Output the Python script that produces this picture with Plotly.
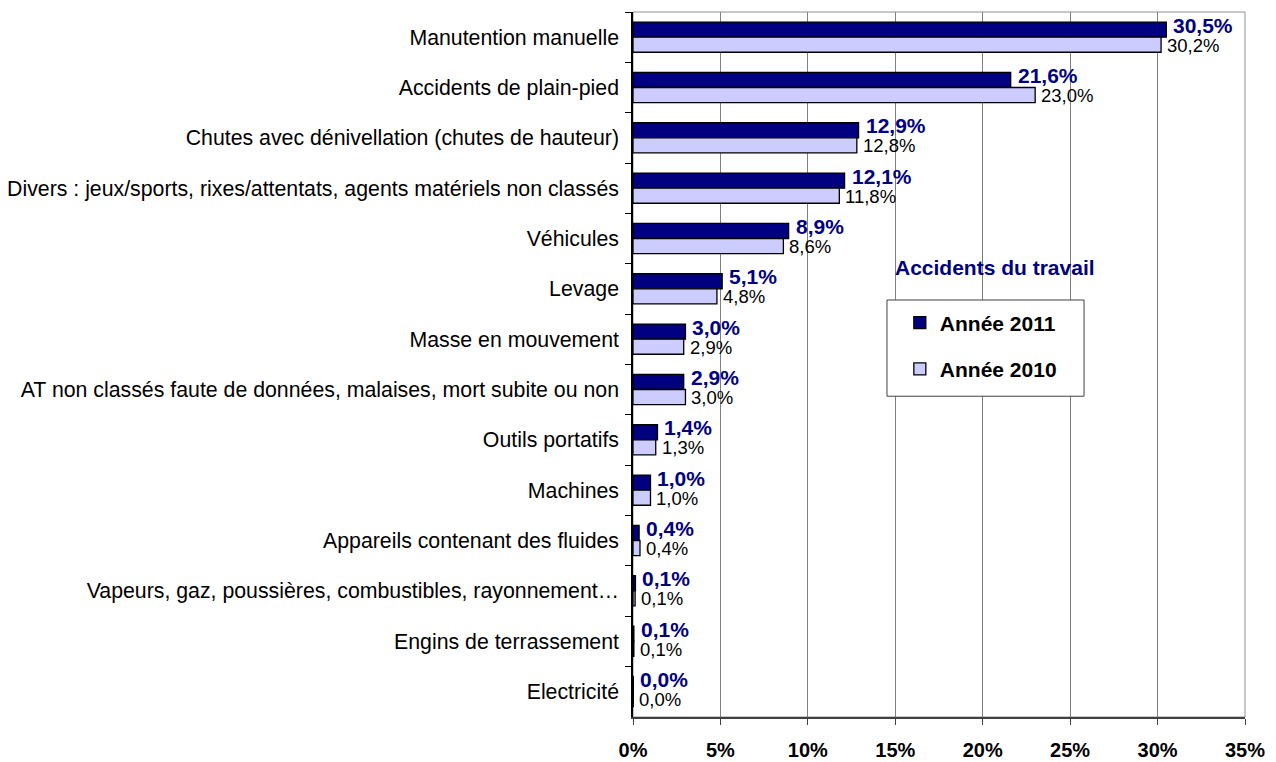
import plotly.graph_objects as go

categories = [
    "Manutention manuelle",
    "Accidents de plain-pied",
    "Chutes avec dénivellation (chutes de hauteur)",
    "Divers : jeux/sports, rixes/attentats, agents matériels non classés",
    "Véhicules",
    "Levage",
    "Masse en mouvement",
    "AT non classés faute de données, malaises, mort subite ou non",
    "Outils portatifs",
    "Machines",
    "Appareils contenant des fluides",
    "Vapeurs, gaz, poussières, combustibles, rayonnement…",
    "Engins de terrassement",
    "Electricité",
]

values_2011 = [30.5, 21.6, 12.9, 12.1, 8.9, 5.1, 3.0, 2.9, 1.4, 1.0, 0.35, 0.14, 0.05, 0.02]
values_2010 = [30.2, 23.0, 12.8, 11.8, 8.6, 4.8, 2.9, 3.0, 1.3, 1.0, 0.4, 0.12, 0.05, 0.02]

labels_2011 = ["30,5%", "21,6%", "12,9%", "12,1%", "8,9%", "5,1%", "3,0%",
               "2,9%", "1,4%", "1,0%", "0,4%", "0,1%", "0,1%", "0,0%"]
labels_2010 = ["30,2%", "23,0%", "12,8%", "11,8%", "8,6%", "4,8%", "2,9%",
               "3,0%", "1,3%", "1,0%", "0,4%", "0,1%", "0,1%", "0,0%"]

x_ticks = [0, 5, 10, 15, 20, 25, 30, 35]
x_tick_text = ["0%", "5%", "10%", "15%", "20%", "25%", "30%", "35%"]

FONT = "Liberation Sans, Arial, sans-serif"
NAVY = "#000080"
LAVENDER = "#CCCCFF"

fig = go.Figure()

fig.add_trace(go.Bar(
    y=categories, x=values_2011, orientation="h",
    name="Année 2011", legendgroup="a",
    marker=dict(color=NAVY, line=dict(color="black", width=1.3)),
))
fig.add_trace(go.Bar(
    y=categories, x=values_2010, orientation="h",
    name="Année 2010", legendgroup="b",
    marker=dict(color=LAVENDER, line=dict(color="black", width=1.3)),
))

# data labels: 2011 above the category centre, 2010 below
annotations = []
for cat, v, lab in zip(categories, values_2011, labels_2011):
    annotations.append(dict(
        x=v, y=cat, text=lab, xanchor="left", yanchor="middle",
        xshift=5, yshift=12, showarrow=False,
        font=dict(family=FONT, size=21, color=NAVY, weight="bold")))
for cat, v, lab in zip(categories, values_2010, labels_2010):
    annotations.append(dict(
        x=v, y=cat, text=lab, xanchor="left", yanchor="middle",
        xshift=4, yshift=-8, showarrow=False,
        font=dict(family=FONT, size=18.5, color="black")))

annotations.append(dict(
    text="Accidents du travail", xref="paper", yref="paper",
    x=0.5915, y=0.637, xanchor="center", yanchor="middle", showarrow=False,
    font=dict(family=FONT, size=21, color=NAVY, weight="bold")))

fig.update_layout(
    width=1268, height=754,
    margin=dict(l=625, r=31, t=4, b=45),
    paper_bgcolor="white", plot_bgcolor="white",
    font=dict(family=FONT, size=21, color="black"),
    barmode="group", bargap=0.4, bargroupgap=0,
    showlegend=True,
    legend=dict(
        x=0.436, y=0.588, xanchor="left", yanchor="top",
        bgcolor="rgba(0,0,0,0)", borderwidth=0,
        font=dict(family=FONT, size=21, color="black", weight="bold"),
        tracegroupgap=16, traceorder="grouped",
    ),
    xaxis=dict(
        range=[0, 35], tickvals=x_ticks, ticktext=x_tick_text,
        showgrid=True, gridcolor="#808080", gridwidth=1,
        showline=True, linecolor="#404040", linewidth=1.5,
        ticks="outside", ticklen=6, tickcolor="#404040",
        ticklabelstandoff=8,
        tickfont=dict(family=FONT, size=20, color="black", weight="bold"),
        zeroline=False, fixedrange=True, automargin=False,
    ),
    yaxis=dict(
        autorange="reversed", type="category",
        showline=True, linecolor="black", linewidth=1.5,
        ticks="outside", ticklen=6, tickcolor="black",
        tickson="boundaries", ticklabelstandoff=8,
        showgrid=False,
        tickfont=dict(family=FONT, size=21.3, color="black"),
        fixedrange=True, automargin=False,
    ),
    shapes=[
        dict(type="rect", xref="paper", yref="paper", x0=0, x1=1, y0=0, y1=1,
             line=dict(color="#909090", width=1), layer="below"),
        dict(type="rect", xref="paper", yref="paper",
             x0=0.415, x1=0.737, y0=0.455, y1=0.5915,
             line=dict(color="#404040", width=1), fillcolor="white", layer="above"),
    ],
    annotations=annotations,
)

fig.write_html("out.html")
